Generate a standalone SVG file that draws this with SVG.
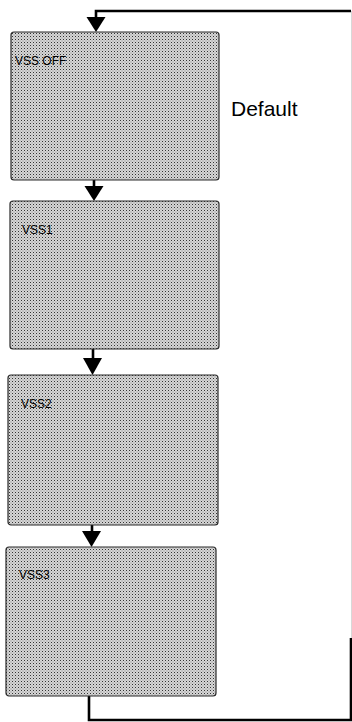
<svg xmlns="http://www.w3.org/2000/svg" width="352" height="722" viewBox="0 0 352 722">
<style>
.box{fill:url(#stip);stroke:#2a2a2a;stroke-width:1.2}
.lbl{font-family:"Liberation Sans",Arial,sans-serif;font-size:12px;fill:#000}
.wire{fill:none;stroke:#000;stroke-width:2.6}
.head{fill:#000}
</style>
<defs>
<pattern id="stip" width="3" height="3" patternUnits="userSpaceOnUse">
<rect width="3" height="3" fill="#d6d6d6"/>
<rect x="0" y="0" width="1" height="1" fill="#333"/>
<rect x="1.5" y="1.5" width="1" height="1" fill="#888"/>
</pattern>
</defs>
<g id="connectors">
<path class="wire" d="M351,11 H96 V20"/>
<polygon class="head" points="86.5,17 105.5,17 96,32"/>
<path class="wire" d="M94,180 V188"/>
<polygon class="head" points="84.5,186 103.5,186 94,201"/>
<path class="wire" d="M93,349 V360"/>
<polygon class="head" points="83,358 102,358 92.5,375"/>
<path class="wire" d="M92,525 V533"/>
<polygon class="head" points="82,531 101,531 91.5,547"/>
<path class="wire" d="M89,696 V720 H351 V638"/>
<line x1="351.5" y1="11" x2="351.5" y2="638" stroke="#d8d8d8" stroke-width="1"/>
</g>
<g id="vss-off">
<rect class="box" x="11" y="32" width="208" height="148" rx="3"/>
<text class="lbl" x="15" y="64.5">VSS  OFF</text>
</g>
<text x="231" y="116" font-family="'Liberation Sans',Arial,sans-serif" font-size="21" fill="#000">Default</text>
<g id="vss1">
<rect class="box" x="10" y="201" width="209" height="148" rx="3"/>
<text class="lbl" x="22" y="234">VSS1</text>
</g>
<g id="vss2">
<rect class="box" x="8" y="375" width="210" height="150" rx="3"/>
<text class="lbl" x="21" y="408">VSS2</text>
</g>
<g id="vss3">
<rect class="box" x="6" y="547" width="210" height="149" rx="3"/>
<text class="lbl" x="19" y="579">VSS3</text>
</g>
</svg>
